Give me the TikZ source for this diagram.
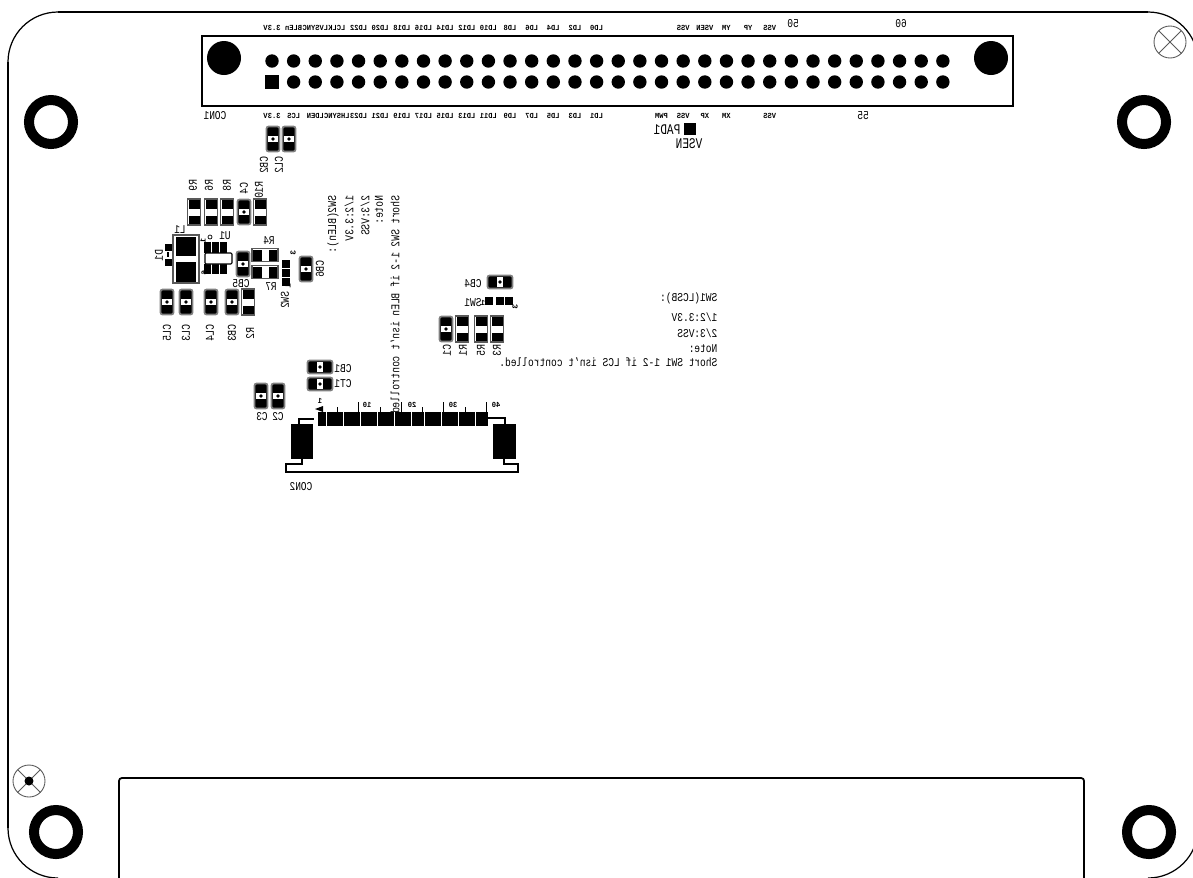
\documentclass[tikz,border=0pt]{standalone}
\usepackage{fontspec}
\setmainfont{Liberation Mono}
\tikzset{
  pintext/.style={font=\fontsize{2.2}{2.6}\selectfont\bfseries, inner sep=0pt, xscale=-.92},
  parttext/.style={font=\fontsize{3.4}{4}\selectfont, inner sep=0pt, xscale=-.8},
  bigtext/.style={font=\fontsize{4.2}{5}\selectfont, inner sep=0pt, xscale=-.75},
  partvert/.style={font=\fontsize{3.4}{4}\selectfont, inner sep=0pt, rotate=-90, yscale=-1, xscale=.8},
  pinvert/.style={font=\fontsize{2.2}{2.6}\selectfont\bfseries, inner sep=0pt, rotate=-90, yscale=-1},
  hole/.style={line width=2.85pt},
  capcomp/.pic={
    \fill[black, draw=gray, line width=.5pt, rounded corners=.6pt] (-.065,-.125) rectangle (.065,.125);
    \fill[white] (-.05,-.03) rectangle (.05,.03);
    \fill (0,0) circle (.018);
  },
  rescomp/.pic={
    \draw[gray!70!black, line width=.35pt, fill=white] (-.065,-.13) rectangle (.065,.13);
    \fill (-.055,.035) rectangle (.055,.12);
    \fill (-.055,-.12) rectangle (.055,-.035);
  }
}
\begin{document}
\begin{tikzpicture}
\useasboundingbox (0,0) rectangle (11.93,-8.77);
\fill[white] (0,0) rectangle (11.93,-8.77);
\clip (0,0) rectangle (11.93,-8.77);

\draw[line width=.6pt] (.58,-.12) -- (11.48,-.12);
\draw[line width=.6pt] (.08,-.62) -- (.08,-8.28);
\draw[line width=.35pt] (.08,-.62) arc (180:90:.5);
\draw[line width=.35pt] (11.48,-.12) arc (90:0:.5);
\draw[line width=.35pt] (.08,-8.28) arc (180:270:.5);
\draw[line width=.35pt] (11.98,-8.28) arc (0:-90:.5);
\draw[line width=.5pt, rounded corners=.8pt] (1.19,-8.9) -- (1.19,-7.78) -- (10.84,-7.78) -- (10.84,-8.9);

\draw[hole] (.51,-1.22) circle (.22);
\draw[hole] (11.44,-1.22) circle (.22);
\draw[hole] (.56,-8.32) circle (.22);
\draw[hole] (11.49,-8.32) circle (.22);

\draw[gray!70!black, line width=.25pt] (11.7,-.42) circle (.16);
\draw[gray!70!black, line width=.25pt] (11.587,-.307) -- (11.813,-.533);
\draw[gray!70!black, line width=.25pt] (11.587,-.533) -- (11.813,-.307);
\draw[gray!70!black, line width=.25pt] (.29,-7.81) circle (.16);
\draw[gray!70!black, line width=.25pt] (.177,-7.697) -- (.403,-7.923);
\draw[gray!70!black, line width=.25pt] (.177,-7.923) -- (.403,-7.697);
\fill (.29,-7.81) circle (.045);

% CON1
\draw[line width=.6pt] (2.02,-.36) rectangle (10.13,-1.06);
\fill (2.24,-.58) circle (.17);
\fill (9.91,-.58) circle (.17);
\foreach \c in {0,...,31} \fill ({2.72+\c*.2164},-.61) circle (.067);
\foreach \c in {1,...,31} \fill ({2.72+\c*.2164},-.82) circle (.067);
\fill (2.65,-.75) rectangle (2.79,-.89);
\foreach \c/\lab in {0/3.3V,1/BLEn,2/LVSYNC,3/LCLK,4/LD22,5/LD20,6/LD18,7/LD16,8/LD14,9/LD12,10/LD10,11/LD8,12/LD6,13/LD4,14/LD2,15/LD0,19/VSS,20/VSEN,21/YM,22/YP,23/VSS}
  \node[pintext] (toppin\c) at ({2.72+\c*.2164},-.28) {\lab};
\foreach \c/\lab in {0/3.3V,1/LCS,2/LDEN,3/LHSYNC,4/LD23,5/LD21,6/LD19,7/LD17,8/LD15,9/LD13,10/LD11,11/LD9,12/LD7,13/LD5,14/LD3,15/LD1,18/PWM,19/VSS,20/XP,21/XM,23/VSS}
  \node[pintext] (botpin\c) at ({2.72+\c*.2164},-1.16) {\lab};
\node[parttext] (con1) at (2.15,-1.16) {CON1};
\node[parttext] (n50) at (7.93,-.24) {50};
\node[parttext] (n60) at (9.01,-.24) {60};
\node[parttext] (n55) at (8.63,-1.16) {55};
\fill (6.84,-1.23) rectangle (6.96,-1.35);
\node[bigtext] (pad1) at (6.67,-1.3) {PAD1};
\node[bigtext] (vsen) at (6.89,-1.44) {VSEN};

% caps and resistors
\foreach \x/\y in {2.73/1.39,2.89/1.39,2.44/2.12,2.43/2.64,3.06/2.69,1.67/3.02,1.86/3.02,2.11/3.02,2.32/3.02,4.46/3.29,2.61/3.96,2.78/3.96}
  \pic at (\x,-\y) {capcomp};
\foreach \x/\y in {3.2/3.67,3.2/3.84,5/2.82}
  \pic[rotate=90] at (\x,-\y) {capcomp};
\foreach \x/\y in {1.94/2.12,2.11/2.12,2.27/2.12,2.6/2.12,2.48/3.02,4.62/3.29,4.81/3.29,4.97/3.29}
  \pic at (\x,-\y) {rescomp};
\foreach \y in {2.55,2.72}
  \pic[rotate=90] at (2.65,-\y) {rescomp};

\foreach \x/\y/\lab in {2.64/1.65/CB2,2.79/1.65/CL2,1.93/1.85/R9,2.09/1.85/R6,2.27/1.85/R8,2.44/1.88/C4,2.59/1.9/R10,1.59/2.55/D1,3.2/2.69/CB6,1.67/3.33/CL5,1.86/3.33/CL3,2.1/3.33/CL4,2.32/3.33/CB3,2.5/3.33/R2,2.85/3/SW2,4.47/3.5/C1,4.63/3.5/R1,4.81/3.5/R5,4.97/3.5/R3}
  \node[partvert] (\lab) at (\x,-\y) {\lab};
\foreach \x/\y/\lab in {1.8/2.3/L1,2.25/2.36/U1,2.41/2.84/CB5,2.69/2.41/R4,2.71/2.87/R7,3.43/3.69/CB1,3.43/3.84/CT1,2.62/4.17/C3,2.78/4.17/C2,4.73/2.84/CB4,4.73/3.03/SW1,3.01/4.87/CON2}
  \node[parttext] (\lab) at (\x,-\y) {\lab};

% L1, D1, U1
\draw[gray!70!black, line width=.3pt] (1.73,-2.35) rectangle (1.99,-2.83);
\fill (1.76,-2.37) rectangle (1.96,-2.56);
\fill (1.76,-2.62) rectangle (1.96,-2.82);
\fill (1.645,-2.44) rectangle (1.715,-2.51);
\fill (1.645,-2.585) rectangle (1.715,-2.655);
\fill (1.67,-2.52) rectangle (1.69,-2.57);
\foreach \x in {2.07,2.15,2.23} {
  \fill (\x-.035,-2.42) rectangle (\x+.035,-2.53);
  \fill (\x-.035,-2.64) rectangle (\x+.035,-2.74);
}
\draw[line width=.3pt, fill=white, rounded corners=.3pt] (2.05,-2.53) rectangle (2.32,-2.64);
\draw[line width=.2pt] (2.1,-2.37) circle (.02);
\node[pinvert] (u1a) at (2.03,-2.41) {1};
\node[pinvert] (u1b) at (2.04,-2.73) {6};

% SW1, SW2
\foreach \y in {2.6,2.69,2.78} \fill (2.82,-\y) rectangle (2.9,-\y-.08);
\foreach \x in {4.89,5,5.09} \fill (\x-.04,-2.97) rectangle (\x+.04,-3.05);
\node[pinvert] (swa) at (2.93,-2.53) {3};
\node[pinvert] (swb) at (2.88,-2.86) {1};
\node[pinvert] (swc) at (5.15,-3.07) {3};
\node[pintext] (swd) at (4.83,-3.03) {1};

% CON2
\foreach \c in {0,...,39} \fill ({3.18+\c*.0426},-4.12) rectangle ({3.18+\c*.0426+.04},-4.26);
\foreach \x in {3.58,4.01,4.43,4.86} \draw[line width=.25pt] (\x,-4.02) -- (\x,-4.12);
\foreach \x in {3.37,3.8,4.22,4.65} \draw[line width=.25pt] (\x,-4.07) -- (\x,-4.12);
\fill (3.15,-4.09) -- (3.23,-4.06) -- (3.23,-4.12) -- cycle;
\fill (2.91,-4.24) rectangle (3.13,-4.59);
\fill (4.93,-4.24) rectangle (5.16,-4.59);
\draw[line width=.3pt] (2.99,-4.24) -- (2.99,-4.19) -- (3.14,-4.19);
\draw[line width=.3pt] (4.88,-4.18) -- (5.05,-4.18) -- (5.05,-4.24);
\draw[line width=.3pt] (3.02,-4.59) -- (3.02,-4.64) -- (2.86,-4.64) -- (2.86,-4.72) -- (5.18,-4.72) -- (5.18,-4.64) -- (5.04,-4.64) -- (5.04,-4.59);
\foreach \x/\lab in {3.67/10,4.12/20,4.53/30,4.96/40} \node[pintext] (con2n\lab) at (\x,-4.05) {\lab};
\node[pintext] (con2n1) at (3.2,-4.01) {1};

% notes
\foreach \x/\lab [count=\i] in {3.33/{SW2(BLEn):},3.49/{1/2:3.3V},3.65/{2/3:VSS},3.79/{Note:},3.95/{Short SW2 1-2 if BLEn isn't controlled.}}
  \node[partvert, anchor=west] (swnote\i) at (\x,-1.95) {\lab};
\foreach \y/\lab [count=\i] in {2.98/{SW1(LCSB):},3.17/{1/2:3.3V},3.33/{2/3:VSS},3.49/{Note:},3.62/{Short SW1 1-2 if LCS isn't controlled.}}
  \node[parttext, anchor=west] (lcsnote\i) at (7.18,-\y) {\lab};
\end{tikzpicture}
\end{document}
